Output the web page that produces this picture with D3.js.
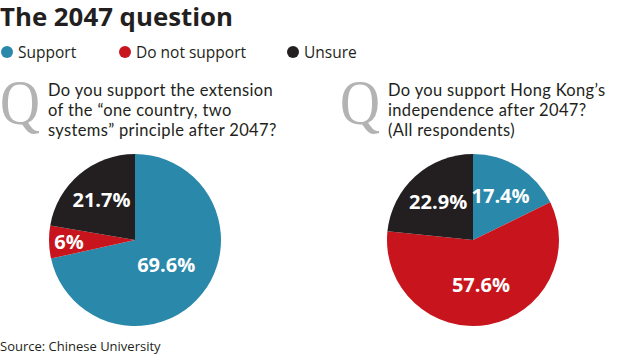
<!DOCTYPE html>
<html><head><meta charset="utf-8">
<script src="https://cdn.jsdelivr.net/npm/d3@7"></script>
<style>
html,body{margin:0;padding:0;background:#fff;}
svg{display:block;}
</style></head>
<body>
<script>
const categories = ["Support", "Do not support", "Unsure"];
const colors = ["#2a88ab", "#c8151d", "#231f20"];
const extensionValues = [69.6, 6, 21.7];
const independenceValues = [17.4, 57.6, 22.9];
const extensionLabels = ["69.6%", "6%", "21.7%"];
const independenceLabels = ["17.4%", "57.6%", "22.9%"];
const title = "The 2047 question";
const question1 = ["Do you support the extension", "of the \u201cone country, two", "systems\u201d principle after 2047?"];
const question2 = ["Do you support Hong Kong\u2019s", "independence after 2047?", "(All respondents)"];
const source = "Source: Chinese University";

const W = 620, H = 356;
const svg = d3.select("body").append("svg").attr("width", W).attr("height", H);
const font = "'Open Sans', sans-serif";
const qfont = "Lato, 'Open Sans', sans-serif";

svg.append("text").attr("x", 0).attr("y", 26)
  .attr("font-family", font).attr("font-weight", 700).attr("font-size", 25)
  .attr("fill", "#231f20").attr("textLength", 233).attr("lengthAdjust", "spacingAndGlyphs")
  .text(title);

const legendX = [7, 125, 293];
const lg = svg.append("g");
categories.forEach((c, i) => {
  lg.append("circle").attr("cx", legendX[i]).attr("cy", 52).attr("r", 6).attr("fill", colors[i]);
  lg.append("text").attr("x", legendX[i] + 11).attr("y", 58)
    .attr("font-family", font).attr("font-size", 15.5).attr("fill", "#231f20").text(c);
});

function question(x, lines) {
  svg.append("text").attr("x", x).attr("y", 124)
    .attr("font-family", "'Liberation Serif', serif").attr("font-size", 64)
    .attr("fill", "#b3b3b3").attr("textLength", 40).attr("lengthAdjust", "spacingAndGlyphs").text("Q");
  lines.forEach((l, i) => {
    svg.append("text").attr("x", x + 48).attr("y", 96 + i * 20)
      .attr("font-family", qfont).attr("font-size", 16.5).attr("letter-spacing", 0.35)
      .attr("fill", "#231f20").text(l);
  });
}
question(0, question1);
question(340, question2);

const r = 86;
const pie = d3.pie().sort(null).value(d => d);
const arc = d3.arc().innerRadius(0).outerRadius(r);

function drawPie(cx, values, labels) {
  const g = svg.append("g").attr("transform", `translate(${cx},240)`);
  const total = d3.sum(values);
  const arcs = pie(values);
  g.selectAll("path").data(arcs).join("path")
    .attr("d", arc).attr("fill", (d, i) => colors[i]);
  g.selectAll("text").data(arcs).join("text")
    .attr("transform", d => {
      const f = d.value / total;
      const lr = f < 0.1 ? 66 : (f > 0.65 ? 40 : (f > 0.5 ? 45 : 52));
      const c = d3.arc().innerRadius(lr).outerRadius(lr).centroid(d);
      return `translate(${c[0]},${c[1]})`;
    })
    .attr("text-anchor", "middle").attr("dy", "0.36em")
    .attr("font-family", font).attr("font-weight", 700).attr("font-size", 20)
    .attr("fill", "#fff").text((d, i) => labels[i]);
}
drawPie(135, extensionValues, extensionLabels);
drawPie(473, independenceValues, independenceLabels);

svg.append("text").attr("x", 0).attr("y", 351)
  .attr("font-family", font).attr("font-size", 13).attr("fill", "#231f20").text(source);
</script>
</body></html>
